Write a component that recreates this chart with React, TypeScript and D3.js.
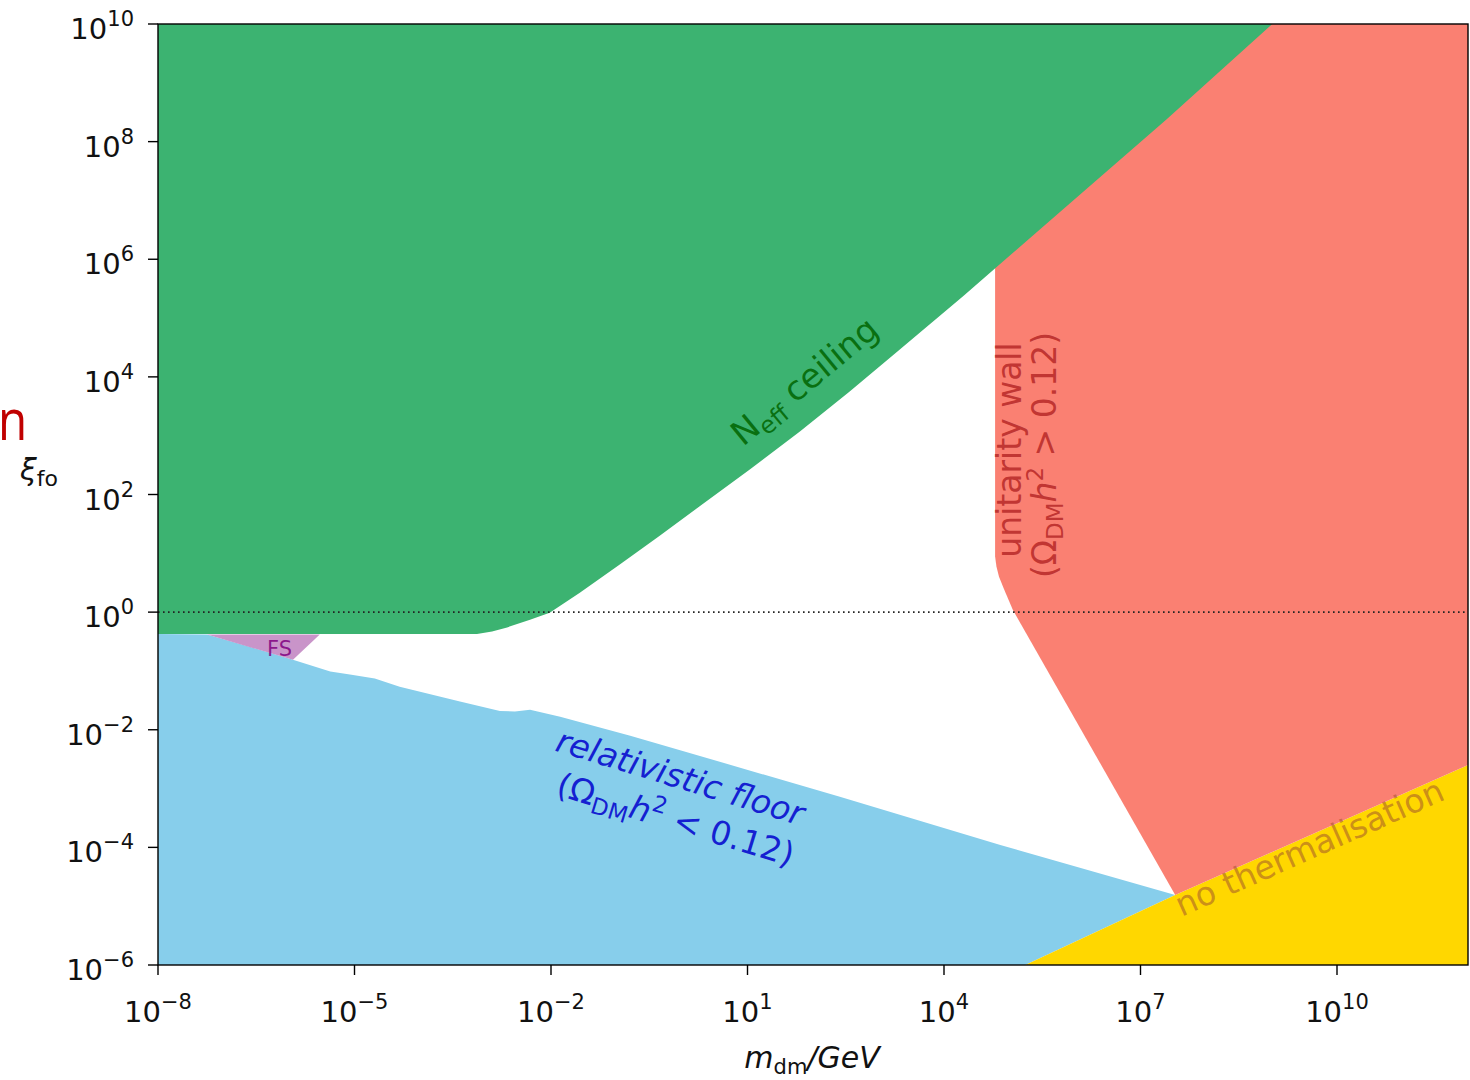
import React from 'react';
import * as d3 from 'd3';

// Axis domains
const xDomain: [number, number] = [1e-8, 1e12];
const yDomain: [number, number] = [1e-6, 1e10];
const xTickExps = [-8, -5, -2, 1, 4, 7, 10];
const yTickExps = [-6, -4, -2, 0, 2, 4, 6, 8, 10];

// Region edges as [log10 m_dm/GeV, log10 xi_fo]
const neffCeilingEdge: [number, number][] = [
  [-8, -0.37], [-3.13, -0.37], [-2.9, -0.33], [-2.67, -0.26], [-2.32, -0.13],
  [-2.02, -0.01], [-1.56, 0.33], [-0.95, 0.81], [-0.34, 1.3], [0.27, 1.8],
  [1.04, 2.43], [1.8, 3.07], [2.56, 3.75], [3.33, 4.47], [4.3, 5.38],
  [5.27, 6.32], [7.4, 8.38], [9.01, 10],
];
const relativisticFloorEdge: [number, number][] = [
  [-8, -0.37], [-7.25, -0.38], [-6.6, -0.59], [-5.94, -0.81], [-5.37, -1.01],
  [-5.07, -1.06], [-4.69, -1.13], [-4.31, -1.27], [-3.39, -1.52], [-2.78, -1.68],
  [-2.55, -1.69], [-2.32, -1.66], [-1.86, -1.78], [-0.79, -2.1], [2.41, -3.14],
  [4.86, -3.96], [7.53, -4.81],
];
const unitarityWall: [number, number][] = [
  [4.78, 10], [12, 10], [12, -2.6], [7.53, -4.81], [5.05, 0.04], [4.92, 0.38],
  [4.84, 0.6], [4.8, 0.78], [4.78, 0.95],
];
const noThermalisation: [number, number][] = [
  [5.24, -6], [7.53, -4.81], [12, -2.6], [12, -6],
];
const freeStreaming: [number, number][] = [
  [-7.25, -0.38], [-5.53, -0.38], [-5.94, -0.81],
];
const referenceLine = 1; // xi_fo = 1

const FONT = 'DejaVu Sans';

export default function App() {
  const L = 158, R = 1468, T = 24, B = 965;
  const x = d3.scaleLog().domain(xDomain).range([L, R]);
  const y = d3.scaleLog().domain(yDomain).range([B, T]);
  const line = d3
    .line<[number, number]>()
    .x((d) => x(Math.pow(10, d[0])))
    .y((d) => y(Math.pow(10, d[1])));
  const poly = (pts: [number, number][]) => (line(pts) || '') + 'Z';

  const greenPts: [number, number][] = [[-8, 10], ...neffCeilingEdge];
  const bluePts: [number, number][] = [...relativisticFloorEdge, [5.24, -6], [-8, -6]];

  const sup = (e: number) => (e < 0 ? '\u2212' + Math.abs(e) : String(e));

  return (
    <svg
      width={1470}
      height={1080}
      style={{ position: 'absolute', left: 0, top: 0, background: '#fff' }}
      fontFamily={FONT}
    >
      <defs>
        <clipPath id="plotclip">
          <rect x={L} y={T} width={R - L} height={B - T} />
        </clipPath>
      </defs>
      <g clipPath="url(#plotclip)">
        <path d={poly(bluePts)} fill="#87CEEB" />
        <path d={poly(freeStreaming)} fill="#c994c9" />
        <path d={poly(noThermalisation)} fill="#FFD700" />
        <path d={poly(unitarityWall)} fill="#FA8072" />
        <path d={poly(greenPts)} fill="#3CB371" />
        <line
          x1={L}
          x2={R}
          y1={y(referenceLine)}
          y2={y(referenceLine)}
          stroke="#222"
          strokeWidth={1.6}
          strokeDasharray="1.6,3.4"
        />
      </g>

      {/* annotations */}
      <text x={267} y={656} fontSize={21} fill="#800080" fillOpacity={0.85}>FS</text>

      <g transform="translate(743,447) rotate(-39.5)">
        <text fontSize={34} fill="#006400" fillOpacity={0.85}>
          <tspan>N</tspan>
          <tspan fontSize={24} dy={7}>eff</tspan>
          <tspan dy={-7}> ceiling</tspan>
        </text>
      </g>

      <g transform="translate(677,788) rotate(17)" fill="#0000cd" fillOpacity={0.85} fontStyle="italic">
        <text textAnchor="middle" fontSize={33}>relativistic floor</text>
        <text textAnchor="middle" fontSize={33} x={8} y={42}>
          <tspan fontStyle="normal">(Ω</tspan>
          <tspan fontSize={23} dy={7} fontStyle="normal">DM</tspan>
          <tspan dy={-7}>h</tspan>
          <tspan fontSize={23} dy={-13} fontStyle="normal">2</tspan>
          <tspan dy={13} fontStyle="normal"> &lt; 0.12)</tspan>
        </text>
      </g>

      <g fill="#b22222" fillOpacity={0.8} fontSize={33}>
        <text transform="translate(1021,450) rotate(-90)" textAnchor="middle">unitarity wall</text>
        <text transform="translate(1056,455) rotate(-90)" textAnchor="middle">
          <tspan>(Ω</tspan>
          <tspan fontSize={23} dy={7}>DM</tspan>
          <tspan dy={-7} fontStyle="italic">h</tspan>
          <tspan fontSize={23} dy={-13}>2</tspan>
          <tspan dy={13}> &gt; 0.12)</tspan>
        </text>
      </g>

      <text
        transform="translate(1314,858) rotate(-24)"
        textAnchor="middle"
        fontSize={33}
        fill="#a0522d"
        fillOpacity={0.55}
      >
        no thermalisation
      </text>

      {/* frame */}
      <rect x={L} y={T} width={R - L} height={B - T} fill="none" stroke="#000" strokeWidth={1.4} />

      {/* y ticks */}
      {yTickExps.map((e) => {
        const yy = y(Math.pow(10, e));
        return (
          <g key={'y' + e}>
            <line x1={L - 10} x2={L} y1={yy} y2={yy} stroke="#000" strokeWidth={1.4} />
            <text x={134} y={yy + 15} textAnchor="end" fontSize={29} fill="#111">
              <tspan>10</tspan>
              <tspan fontSize={21} dy={-13}>{sup(e)}</tspan>
            </text>
          </g>
        );
      })}

      {/* x ticks */}
      {xTickExps.map((e) => {
        const xx = x(Math.pow(10, e));
        return (
          <g key={'x' + e}>
            <line x1={xx} x2={xx} y1={B} y2={B + 10} stroke="#000" strokeWidth={1.4} />
            <text x={xx} y={1022} textAnchor="middle" fontSize={29} fill="#111">
              <tspan>10</tspan>
              <tspan fontSize={21} dy={-13}>{sup(e)}</tspan>
            </text>
          </g>
        );
      })}

      {/* axis labels */}
      <text x={812} y={1068} textAnchor="middle" fontSize={30} fill="#111">
        <tspan fontStyle="italic">m</tspan>
        <tspan fontSize={21} dy={6}>dm</tspan>
        <tspan fontStyle="italic" dy={-6}>/GeV</tspan>
      </text>
      <text x={20} y={480} fontSize={30} fill="#111">
        <tspan fontStyle="italic">ξ</tspan>
        <tspan fontSize={22} dy={6}>fo</tspan>
      </text>

      <text transform="translate(-2,440) scale(0.85,1)" fontSize={56} fontFamily="Open Sans" fill="#C00000">n</text>
    </svg>
  );
}
